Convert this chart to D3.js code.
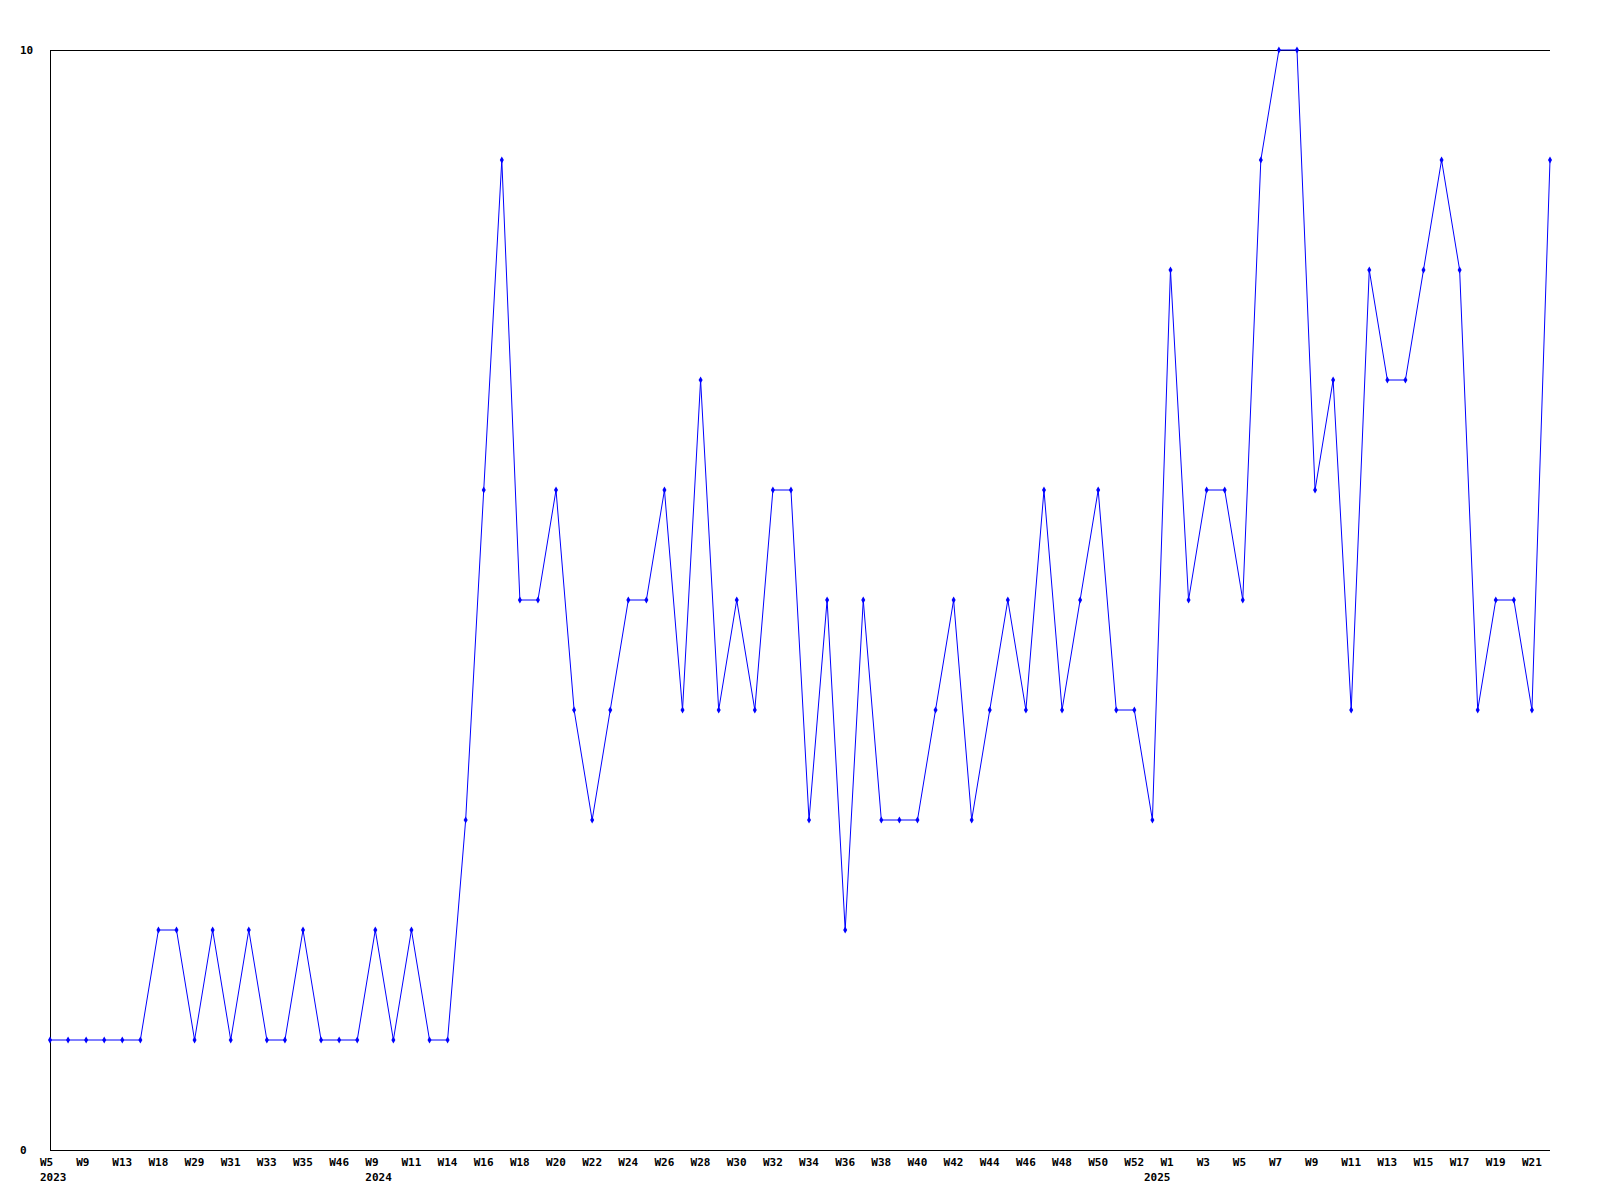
<!DOCTYPE html>
<html>
<head>
<meta charset="utf-8">
<script src="https://cdn.jsdelivr.net/npm/d3@7"></script>
<style>
  html, body { margin: 0; padding: 0; background: #fff; }
  svg text { font-family: "DejaVu Sans Mono", "Liberation Mono", monospace; font-weight: bold; font-size: 11px; fill: #000; }
</style>
</head>
<body>
<svg id="chart" width="1600" height="1200"></svg>
<script>
// Week categories (every other one labelled on the axis)
const weeks = [
  "W5","W7","W9","W11","W13","W16","W18","W20","W29","W30","W31","W32","W33","W34","W35","W40","W46","W52",
  "W9","W10","W11","W13","W14","W15","W16","W17","W18","W19","W20","W21","W22","W23","W24","W25","W26","W27",
  "W28","W29","W30","W31","W32","W33","W34","W35","W36","W37","W38","W39","W40","W41","W42","W43","W44","W45",
  "W46","W47","W48","W49","W50","W51","W52","W53",
  "W1","W2","W3","W4","W5","W6","W7","W8","W9","W10","W11","W12","W13","W14","W15","W16","W17","W18","W19","W20","W21","W22"
];
// Year labels: index of the week where a year starts
const yearStarts = [0, 18, 62];
const yearLabels = ["2023", "2024", "2025"];
// Series values
const values = [
  1,1,1,1,1,1,2,2,1,2,1,2,1,1,2,1,1,1,
  2,1,2,1,1,3,6,9,5,5,6,4,3,4,5,5,6,4,
  7,4,5,4,6,6,3,5,2,5,3,3,3,4,5,3,4,5,
  4,6,4,5,6,4,4,3,
  8,5,6,6,5,9,10,10,6,7,4,8,7,7,8,9,8,4,5,5,4,9
];
const yTicks = [0, 10];

const svg = d3.select("#chart");
const mLeft = 50, mRight = 1550, mTop = 50, mBottom = 1150;

const x = d3.scalePoint().domain(d3.range(values.length)).range([mLeft, mRight]);
const y = d3.scaleLinear().domain([0, 10]).range([mBottom, mTop]);

// Frame: top, left, bottom lines
svg.append("line").attr("x1", mLeft).attr("x2", mRight).attr("y1", mTop + 0.5).attr("y2", mTop + 0.5)
  .attr("stroke", "#000").attr("stroke-width", 1);
svg.append("line").attr("x1", mLeft + 0.5).attr("x2", mLeft + 0.5).attr("y1", mTop).attr("y2", mBottom)
  .attr("stroke", "#000").attr("stroke-width", 1);
svg.append("line").attr("x1", mLeft).attr("x2", mRight).attr("y1", mBottom + 0.5).attr("y2", mBottom + 0.5)
  .attr("stroke", "#000").attr("stroke-width", 1);

// Y labels
svg.selectAll("text.ylab").data(yTicks).enter().append("text")
  .attr("class", "ylab")
  .attr("x", 20)
  .attr("y", d => y(d) + 4)
  .text(d => d);

// X labels (every other week)
const labelled = d3.range(0, values.length, 2);
svg.selectAll("text.xlab").data(labelled).enter().append("text")
  .attr("class", "xlab")
  .attr("x", i => x(i) - 10)
  .attr("y", mBottom + 16)
  .text(i => weeks[i]);

// Year labels
svg.selectAll("text.year").data(yearStarts).enter().append("text")
  .attr("class", "year")
  .attr("x", (i, k) => k === yearStarts.length - 1 ? x(i) : x(i) - 10)
  .attr("text-anchor", (i, k) => k === yearStarts.length - 1 ? "end" : "start")
  .attr("y", mBottom + 31)
  .text((i, k) => yearLabels[k]);

// Line
const line = d3.line().x((d, i) => x(i)).y(d => y(d));
svg.append("path").datum(values)
  .attr("d", line)
  .attr("fill", "none")
  .attr("stroke", "#0000ff")
  .attr("stroke-width", 1);

// Markers
svg.selectAll("path.mk").data(values).enter().append("path")
  .attr("class", "mk")
  .attr("transform", (d, i) => `translate(${x(i)},${y(d)})`)
  .attr("d", d3.symbol().type(d3.symbolDiamond).size(14))
  .attr("fill", "#0000ff");
</script>
</body>
</html>
